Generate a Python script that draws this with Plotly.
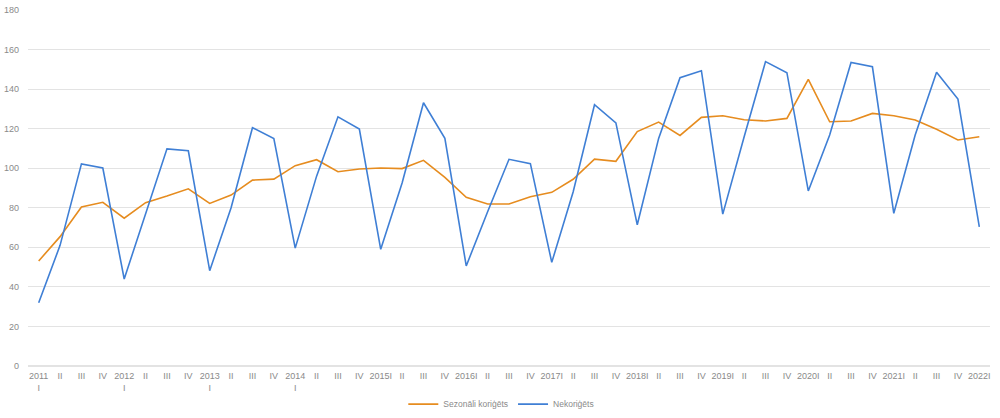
import plotly.graph_objects as go

years = list(range(2011, 2023))
quarters = ['I', 'II', 'III', 'IV']

# ceturkšņu apzīmējumi: 2011-2014 ar gadu virs "I", vēlāk kopā
tick_labels = []
for y in years:
    for q in quarters:
        if y == 2022 and q != 'I':
            break
        if q == 'I':
            tick_labels.append('{}<br>I'.format(y) if y <= 2014 else '{}I'.format(y))
        else:
            tick_labels.append(q)

sezonali_korigets = [53.1, 65.4, 80.4, 82.8, 74.7, 82.6, 85.9, 89.6, 82.2, 86.4,
                     94.0, 94.5, 101.3, 104.3, 98.2, 99.6, 100.1, 99.8, 104.0, 95.4,
                     85.3, 81.9, 81.9, 85.6, 87.8, 94.4, 104.6, 103.5, 118.5, 123.3,
                     116.6, 125.7, 126.5, 124.5, 123.9, 125.2, 144.9, 123.5, 123.9, 127.7,
                     126.5, 124.4, 119.7, 114.3, 115.9]
nekorigets = [32.0, 61.0, 102.2, 100.1, 44.0, 77.0, 109.8, 108.8, 48.2, 80.0,
              120.5, 115.0, 59.6, 96.0, 126.0, 119.8, 59.0, 92.5, 133.1, 115.1,
              50.6, 78.0, 104.5, 102.3, 52.4, 88.0, 132.1, 122.9, 71.4, 115.1,
              145.8, 149.3, 76.8, 115.9, 153.9, 148.3, 88.5, 116.8, 153.5, 151.3,
              77.2, 116.8, 148.5, 135.0, 70.4]

x_idx = list(range(len(tick_labels)))

fig = go.Figure()
fig.add_trace(go.Scatter(x=x_idx, y=sezonali_korigets, mode='lines', name='Sezonāli koriģēts',
                         line=dict(color='#e68c1f', width=1.6)))
fig.add_trace(go.Scatter(x=x_idx, y=nekorigets, mode='lines', name='Nekoriģēts',
                         line=dict(color='#3f7fd5', width=1.6)))

fig.update_layout(
    width=1000, height=418,
    margin=dict(l=28, r=10, t=10, b=52, autoexpand=False),
    paper_bgcolor='white', plot_bgcolor='white',
    font=dict(family='Liberation Sans, Arial, sans-serif', size=9, color='#8a8a8a'),
    showlegend=True,
    legend=dict(orientation='h', x=0.492, xanchor='center', y=-0.107, yanchor='middle',
                font=dict(size=8.5, color='#8a8a8a'), tracegroupgap=0),
    hovermode=False,
)
fig.update_xaxes(tickmode='array', tickvals=x_idx, ticktext=tick_labels, tickangle=0,
                 range=[-0.5, len(x_idx) - 0.5], showgrid=False, zeroline=False,
                 showline=False, ticks='', automargin=False, ticklabelstandoff=3,
                 tickfont=dict(size=9, color='#8a8a8a'))
fig.update_yaxes(range=[0, 180], dtick=20, showgrid=True, gridcolor='#e3e3e3', gridwidth=1,
                 zeroline=True, zerolinecolor='#e3e3e3', showline=False, ticks='',
                 ticklabelstandoff=8, automargin=False,
                 tickfont=dict(size=9, color='#8a8a8a'))

# noņem lapas noklusēto body atkāpi, lai grafiks sāktos pašā stūrī
fig.write_html("out.html", config={'displayModeBar': False},
               post_script="document.body.style.margin='0';")
